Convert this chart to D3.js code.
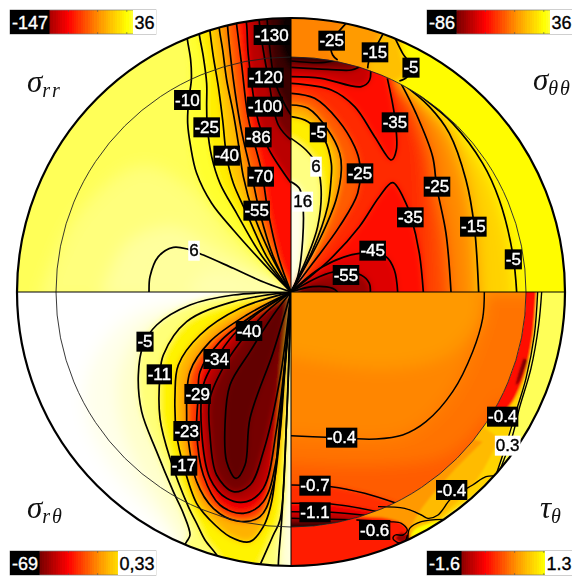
<!DOCTYPE html>
<html><head><meta charset="utf-8">
<script src="https://cdn.jsdelivr.net/npm/d3@7/dist/d3.min.js"></script>
<style>html,body{margin:0;padding:0;background:#fff}svg{display:block;filter:blur(.5px)}</style>
</head><body><svg id="c" width="572" height="578"></svg>
<script>
// every curve is read in units of 1/3 pixel from the picture; [x,y] pairs
const titles=["rr","θθ","rθ","θ"];
const ranges=[[-147,36],[-86,36],[-69,0.33],[-1.6,1.3]];
const barLabels=[["-147","36"],["-86","36"],["-69","0,33"],["-1.6","1.3"]];
const origins=[[873,876],[15,876],[873,21],[15,21]];
// [fill value, [runs of curve], closure points, drawLine]
const rrBase=12;
const rrPale=[
 [17,[[[120,900],[230,650],[420,500],[560,560],[700,720],[873,876]]],[[873,900]],0],
 [22,[[[300,900],[380,730],[520,680],[650,750],[873,876]]],[[873,900]],0],
 [28,[[[560,900],[620,820],[790,850],[873,876]]],[[873,900]],0]];
const rrField=[
 [6,[[[555,60],[562,118],[572,180],[574,240],[566,300],[563,370],[572,440],[590,520],[635,610],[700,690],[790,790],[873,876]]],[[950,876],[950,0]],1],
 [-6,[[[592,60],[598,105],[610,170],[620,250],[620,320],[622,380],[635,470],[660,550],[710,640],[780,760],[873,876]]],[[950,876],[950,0]],1],
 [-20,[[[625,50],[630,95],[640,170],[655,260],[668,360],[680,470],[700,550],[740,640],[800,770],[873,876]]],[[950,876],[950,0]],1],
 [-36,[[[654,40],[658,87],[668,150],[680,240],[700,340],[715,430],[730,530],[760,640],[810,760],[873,876]]],[[950,876],[950,0]],1],
 [-52,[[[680,40],[685,105],[705,275],[725,395],[755,525],[780,640],[820,770],[873,876]]],[[950,876],[950,0]],1],
 [-70,[[[705,40],[710,75],[725,195],[745,355],[785,515],[805,640],[838,780],[873,876]]],[[950,876],[950,0]],1],
 [-92,[[[735,40],[740,75],[745,165],[775,365],[805,445],[870,545],[873,548]]],[[950,548],[950,0]],1],
 [-110,[[[775,40],[785,120],[805,235],[835,375],[873,420]]],[[950,420],[950,0]],1],
 [-128,[[[800,40],[810,150],[825,245],[855,315],[873,345]]],[[950,345],[950,0]],1],
 [-142,[[[840,40],[840,140],[873,210]]],[[950,210],[950,0]],0]];
const rrCap=[
 [22,[[[447,900],[447,876],[450,830],[475,770],[520,742],[565,748],[610,765],[700,805],[800,850],[873,876]]],[[873,900]],1]];
const ttOuterBase=11;
const ttOuter=[
 [-2,[[[345,60],[352,165],[368,205],[350,240]]],[[200,300],[-50,300],[-50,0],[345,0]],0],
 [-10,[[[300,60],[265,150],[248,185],[245,215]]],[[200,300],[-50,300],[-50,0],[300,0]],0],
 [-14,[[[185,60],[150,105],[135,130],[140,165],[155,190]]],[[200,300],[-50,300],[-50,0],[185,0]],0]];
const ttOuterLines=[
 [[185,65],[150,105],[135,130],[140,165],[155,180]],
 [[295,95],[265,150],[248,185],[245,205]],
 [[325,110],[350,160],[375,200],[362,232],[340,243]]];
const ttInnerBase=12;
const ttRight=[
 [2,[[[345,245],[400,285],[500,370],[590,490],[640,600],[680,760],[692,876]]],[[692,950],[-50,950],[-50,100],[345,100]],1],
 [-13,[[[345,248],[430,320],[490,400],[540,540],[565,680],[578,876]]],[[578,950],[-50,950],[-50,100],[345,100]],1],
 [-25,[[[345,250],[390,340],[440,470],[452,560],[480,700],[495,876]]],[[495,950],[-50,950],[-50,100],[345,100]],1],
 [-30,[[[345,250],[400,400],[420,876]]],[[420,950],[-50,950],[-50,100],[345,100]],0]];
const ttInner=[
 [-21,[[[16,280],[86,295],[156,360],[206,440],[221,490],[215,580],[160,680],[80,790],[15,876]]],[[-50,876],[-50,280]],1],
 [-6,[[[16,315],[66,325],[126,390],[161,460],[166,510],[150,600],[100,720],[15,876]]],[[-50,876],[-50,315]],1],
 [8,[[[16,350],[66,365],[116,420],[136,490],[135,540],[125,620],[80,750],[15,876]]],[[-50,876],[-50,350]],1],
 [24,[[[15,415],[60,450],[90,490],[105,560],[95,680],[60,780],[15,876]]],[[-50,876],[-50,415]],1],
 [34,[[[15,545],[40,565],[50,605],[50,720],[35,830],[15,876]]],[[-50,876],[-50,545]],1],
 [-35,[[[304,235],[326,350],[331,450],[316,480],[266,410],[206,320],[136,270],[16,250]]],[[-50,250],[-50,100],[304,100]],1],
 [-47,[[[16,230],[106,235],[226,260],[251,240],[251,180]]],[[251,100],[-50,100],[-50,230]],1],
 [-62,[[[16,202],[126,208],[196,210],[221,200]]],[[221,100],[-50,100],[-50,202]],1],
 [-78,[[[16,183],[106,188],[156,180]]],[[156,100],[-50,100],[-50,183]],1],
 [-35,[[[412,876],[400,760],[375,650],[360,610],[320,548],[280,590],[220,680],[130,780],[60,840],[15,876]]],[[-50,950],[412,950]],1],
 [-43,[[[15,876],[110,800],[220,760],[300,770],[325,810],[335,876]]],[[335,950],[-50,950]],1],
 [-55,[[[15,876],[100,830],[150,815],[225,825],[250,850],[253,876]]],[[253,950],[-50,950]],1],
 [-66,[[[15,876],[80,860],[140,865],[155,876]]],[[155,950],[-50,950]],1]];
const rtBase=0.33;
const rtPale=[
 [-0.8,[[[873,21],[600,40],[380,100],[270,250],[260,400],[340,560],[500,740],[550,800]]],[[880,900]],0],
 [-2.5,[[[873,21],[640,50],[440,120],[360,250],[360,400],[420,560],[520,720],[550,800]]],[[880,900]],0]];
const rtField=[
 [-7,[[[873,21],[700,30],[570,60],[470,120],[430,180],[415,270],[425,380],[470,500],[520,620],[550,685],[570,750],[560,770],[540,800]],[[837,900],[835,840],[845,705],[860,400],[873,21]]],[],1],
 [-15,[[[873,21],[700,50],[560,110],[490,210],[480,270],[480,400],[510,520],[565,665],[590,715],[615,765],[650,810],[665,840]],[[770,860],[780,840],[820,750],[840,705],[860,400],[873,21]]],[],1],
 [-23,[[[873,21],[720,70],[600,150],[535,240],[525,330],[530,450],[550,540],[590,655],[630,705],[690,755],[750,770],[790,725],[815,650],[840,400],[873,21]]],[],1],
 [-35,[[[873,21],[740,90],[630,170],[570,260],[560,400],[562,440],[590,590],[640,670],[710,708],[780,695],[820,600],[850,300],[873,21]]],[],1],
 [-42.5,[[[873,21],[760,90],[660,170],[600,260],[595,330],[590,440],[610,570],[660,660],[730,685],[790,650],[830,520],[855,250],[873,21]]],[],1],
 [-49,[[[873,21],[780,80],[700,150],[650,220],[610,300],[605,440],[630,580],[680,640],[740,650],[790,610],[830,430],[860,180],[873,21]]],[],1],
 [-55,[[[873,21],[800,80],[745,140],[680,230],[630,340],[630,450],[650,570],[700,620],[750,600],[790,500],[840,280],[873,21]]],[],1],
 [-57,[[[873,21],[820,90],[750,200],[690,300],[675,420],[680,530],[708,580],[735,540],[750,400],[820,200],[873,21]]],[],1]];
const tauInnerBase=0.2;
const tauWide=[
 [0.12,[[[-50,200],[300,250],[500,200],[640,21]]],[[800,21],[800,950],[-50,950]],0],
 [0.04,[[[595,21],[590,100],[560,200],[500,320],[420,410],[350,450],[270,462],[120,457],[15,452]]],[[-50,452],[-50,950],[800,950],[800,21]],0],
 [-0.06,[[[-50,530],[300,540],[500,500],[650,330]]],[[800,800],[-50,800]],0]];
const tauMain=[[[595,21],[590,100],[560,200],[500,320],[420,410],[350,450],[270,462],[120,457],[15,452]]];
const tauInner=[
 [-0.25,[[[16,600],[136,605],[236,625],[331,655]]],[[500,800],[-50,800],[-50,600]],1],
 [-0.5,[[[16,655],[136,657],[276,680]]],[[500,800],[-50,800],[-50,655]],1],
 [-0.7,[[[16,680],[136,682],[250,692]]],[[500,800],[-50,800],[-50,680]],1],
 [-0.95,[[[16,700],[136,703],[216,705]]],[[500,800],[-50,800],[-50,700]],1],
 [-1.4,[[[16,715],[100,712],[190,712]]],[[300,800],[-50,800],[-50,715]],0]];
const tauOuterBase=0.92;
const tauOuter=[
 [0.5,[[[765,0],[755,21],[745,150],[720,280],[690,380],[660,480],[630,570],[590,610],[470,703],[400,760]]],[[0,900],[0,0]],0],
 [0.37,[[[640,460],[600,540],[560,600],[470,690],[390,740]]],[[0,900],[0,0]],0],
 [-0.38,[[[752,0],[740,150],[715,270],[680,350],[650,385]]],[[0,385],[0,0]],0],
 [0.2,[[[590,470],[500,560],[400,680],[370,740],[340,820]]],[[-50,900],[-50,300]],0],
 [-0.32,[[[0,700],[300,700],[360,725],[372,770],[340,810],[0,900]]],[],0],
 [0.72,[[[376,755],[385,735],[440,712],[470,705],[430,730]]],[],0],
 [-1,[[[712,220],[690,300],[700,290],[725,225]]],[],0],
 [-0.9,[[[345,742],[365,755],[348,772],[328,760]]],[],0]];
const tauLines=[
 [[276,665],[356,670],[406,690],[426,700],[456,690],[496,640],[560,600],[600,575],[630,573]],
 [[211,705],[311,710],[346,715],[364,735],[351,750],[328,750],[321,760],[336,773],[356,770],[364,750]],
 [[366,765],[366,750],[371,730],[406,710],[471,703]],
 [[755,21],[745,150],[720,280],[690,380],[660,480],[630,570]],
 [[767,21],[758,120],[735,250],[700,370],[680,450],[640,560]]];
const rrLabels=[["-130",815,105],["-120",797,233],["-100",795,320],["-86",775,412],["-70",782,530],["-55",770,632],["-40",680,467],["-25",620,382],["-10",562,300],["6",582,752]];
const ttLabels=[["-25",137,122],["-15",267,157],["-5",375,203],["-35",327,367],["-5",97,397],["6",90,500],["16",50,605],["-25",222,520],["-25",453,560],["-35",373,652],["-15",562,680],["-5",682,778],["-45",260,752],["-55",180,825]];
const rtLabels=[["-5",435,170],["-11",478,268],["-29",593,327],["-34",650,222],["-40",747,138],["-23",560,438],["-17",552,542]];
const tauLabels=[["-0.4",167,458],["-0.7",87,602],["-1.1",87,682],["-0.6",266,735],["-0.4",497,615],["-0.4",650,395],["0.3",665,482]];
const outerRadius=822, innerRadius=705;

const svg=d3.select("#c");
const cx=291,cy=292,pxPerUnit=1/3;
const defs=svg.append("defs");
[["b8",8],["b3",3],["b2",2],["b1",1.2]].forEach(([id,s])=>defs.append("filter").attr("id",id)
  .attr("x","-20%").attr("y","-20%").attr("width","140%").attr("height","140%")
  .append("feGaussianBlur").attr("stdDeviation",s));
const tScale=d3.scaleLinear().domain([0,.17,.4,.62,.8,1])
  .range(["#000000","#600000","#ff0000","#ff9900","#ffff00","#ffffff"]).clamp(true);
const line=d3.line().curve(d3.curveCatmullRom.alpha(.5));
const qdir=[[-1,-1],[1,-1],[-1,1],[1,1]];
const rad=outerRadius*pxPerUnit;
const rIn=innerRadius*pxPerUnit;

function panel(i){
  const [ox,oy]=origins[i];
  const x=d3.scaleLinear().domain([ox,ox+outerRadius]).range([cx,cx+rad]);
  const y=d3.scaleLinear().domain([oy,oy+outerRadius]).range([cy,cy+rad]);
  const [dmin,dmax]=ranges[i];
  const col=v=>tScale((v-dmin)/(dmax-dmin));
  const line2=line.x(d=>x(d[0])).y(d=>y(d[1]));
  const [sx,sy]=qdir[i];
  const wedge=(r0,r1,id)=>{
    const a0=sx<0?(sy<0?-Math.PI/2:Math.PI):(sy<0?0:Math.PI/2);
    const arc=d3.arc().innerRadius(r0).outerRadius(r1).startAngle(a0).endAngle(a0+Math.PI/2);
    defs.append("clipPath").attr("id",id).append("path").attr("transform",`translate(${cx},${cy})`).attr("d",arc());
  };
  const layer=(clip,blur,base,list)=>{
    const g=svg.append("g").attr("clip-path",`url(#${clip})`);
    const f=g.append("g").attr("filter",`url(#${blur})`);
    if(base!==null) f.append("rect").attr("x",cx-340).attr("y",cy-340).attr("width",680).attr("height",680).attr("fill",col(base));
    f.selectAll("path").data(list).join("path").attr("fill",d=>col(d[0])).attr("d",d=>{
      const runs=d[1].map(r=>line2(r));
      let s=runs[0];
      runs.slice(1).forEach(r=>{s+="L"+r.slice(1);});
      d[2].forEach(p=>{s+=`L${x(p[0])},${y(p[1])}`;});
      return s+"Z";
    });
    return g;
  };
  const drawLines=(g,runs,w)=>g.selectAll("path.k").data(runs).join("path").attr("class","k")
     .attr("fill","none").attr("stroke","#000").attr("stroke-width",w||1.7).attr("d",line2);
  const allRuns=l=>l.filter(d=>d[3]).flatMap(d=>d[1]);
  wedge(0,rad,"all"+i); wedge(0,rIn,"in"+i); wedge(rIn,rad,"out"+i);
  if(i===0){
    layer("all0","b8",rrBase,rrPale);
    layer("all0","b3",null,rrField);
    const c=layer("all0","b3",null,rrCap);
    c.select("g").attr("opacity",.6);
    drawLines(svg.append("g").attr("clip-path","url(#all0)"),allRuns(rrField.concat(rrCap)));
  } else if(i===1){
    const o=layer("out1","b3",ttOuterBase,ttOuter);
    layer("in1","b8",ttInnerBase,ttRight);
    layer("in1","b3",null,ttInner);
    drawLines(svg.append("g").attr("clip-path","url(#in1)"),allRuns(ttRight.concat(ttInner)));
    drawLines(o,ttOuterLines);
  } else if(i===2){
    layer("all2","b8",rtBase,rtPale);
    layer("all2","b3",null,rtField);
    drawLines(svg.append("g").attr("clip-path","url(#all2)"),allRuns(rtField));
  } else {
    layer("out3","b1",tauOuterBase,tauOuter);
    layer("in3","b8",tauInnerBase,tauWide);
    layer("in3","b2",null,tauInner);
    drawLines(svg.append("g").attr("clip-path","url(#in3)"),allRuns(tauInner).concat(tauMain),1.5);
    drawLines(svg.append("g").attr("clip-path","url(#all3)"),tauLines,1.4);
  }
  return {x,y};
}
const scales=[0,1,2,3].map(panel);

// inner circle, axes, outer circle
svg.append("circle").attr("cx",cx).attr("cy",cy).attr("r",rIn).attr("fill","none").attr("stroke","#222").attr("stroke-width",.9);
svg.append("line").attr("x1",cx-rad).attr("x2",cx+rad).attr("y1",cy).attr("y2",cy).attr("stroke","#000").attr("stroke-width",1.2);
svg.append("line").attr("x1",cx).attr("x2",cx).attr("y1",cy-rad).attr("y2",cy+rad).attr("stroke","#000").attr("stroke-width",1);
svg.append("circle").attr("cx",cx).attr("cy",cy).attr("r",rad).attr("fill","none").attr("stroke","#000").attr("stroke-width",2.2);

function label(s,px,py,size){
  const dark=s[0]==="-";
  const g=svg.append("g");
  const r=g.append("rect").attr("fill",dark?"#000":"#fff");
  const t=g.append("text").text(s).attr("x",px).attr("y",py).attr("text-anchor","middle").attr("dominant-baseline","central")
    .attr("font-family","'Liberation Sans',Arial,sans-serif").attr("font-size",size).attr("fill",dark?"#fff":"#000")
    .attr("stroke",dark?"#fff":"#000").attr("stroke-width",.4);
  const w=t.node().getComputedTextLength();
  r.attr("x",px-w/2-1).attr("y",py-10).attr("width",w+2).attr("height",20);
}
[rrLabels,ttLabels,rtLabels,tauLabels].forEach((l,i)=>l.forEach(d=>label(d[0],scales[i].x(d[1]),scales[i].y(d[2]),17)));

// colour bars
const barX=[10,427,10,427],barY=[10,10,551,551],barW=146,barH=24;
const bx=d3.scaleLinear().domain([0,1]).range([0,barW]);
[0,1,2,3].forEach(i=>{
  const g=svg.append("g").attr("transform",`translate(${barX[i]},${barY[i]})`);
  g.selectAll("rect").data(d3.range(64)).join("rect").attr("shape-rendering","crispEdges").attr("x",d=>bx(d/64)).attr("y",0).attr("width",bx(1/64)+1).attr("height",barH).attr("fill",d=>tScale((d+.5)/64));
  g.append("rect").attr("width",barW).attr("height",barH).attr("fill","none").attr("stroke","#777").attr("stroke-width",.7);
  [.2,.4,.6,.8].forEach(t=>{
    g.append("line").attr("x1",bx(t)).attr("x2",bx(t)).attr("y1",0).attr("y2",2).attr("stroke","#555").attr("stroke-width",.6);
    g.append("line").attr("x1",bx(t)).attr("x2",bx(t)).attr("y1",barH-2).attr("y2",barH).attr("stroke","#555").attr("stroke-width",.6);
  });
  const [a,b]=barLabels[i];
  [[a,"start",0,"#000","#fff"],[b,"end",barW,"#fff","#000"]].forEach(([s,anc,xx,bg,fg])=>{
    const r=g.append("rect").attr("fill",bg);
    const t=g.append("text").text(s).attr("x",xx+(anc==="start"?2:-1.5)).attr("y",barH/2+.5).attr("text-anchor",anc).attr("dominant-baseline","central")
      .attr("font-family","'Liberation Sans',Arial,sans-serif").attr("font-size",18).attr("fill",fg).attr("stroke",fg).attr("stroke-width",.35);
    const w=t.node().getComputedTextLength();
    r.attr("x",anc==="start"?0:barW-w-3).attr("y",0).attr("width",w+3.5).attr("height",barH);
  });
});

// component names
const nameX=[27,533,27,540],nameY=[92,90,518,518],nameSym=["σ","σ","σ","τ"];
[0,1,2,3].forEach(i=>{
  const t=svg.append("text").attr("x",nameX[i]).attr("y",nameY[i]).attr("font-family","'Liberation Serif',serif").attr("font-style","italic").attr("fill","#111");
  t.append("tspan").attr("font-size",31).text(nameSym[i]);
  t.append("tspan").attr("font-size",20).attr("dy",5).attr("letter-spacing",2).text(titles[i]);
});
</script></body></html>
